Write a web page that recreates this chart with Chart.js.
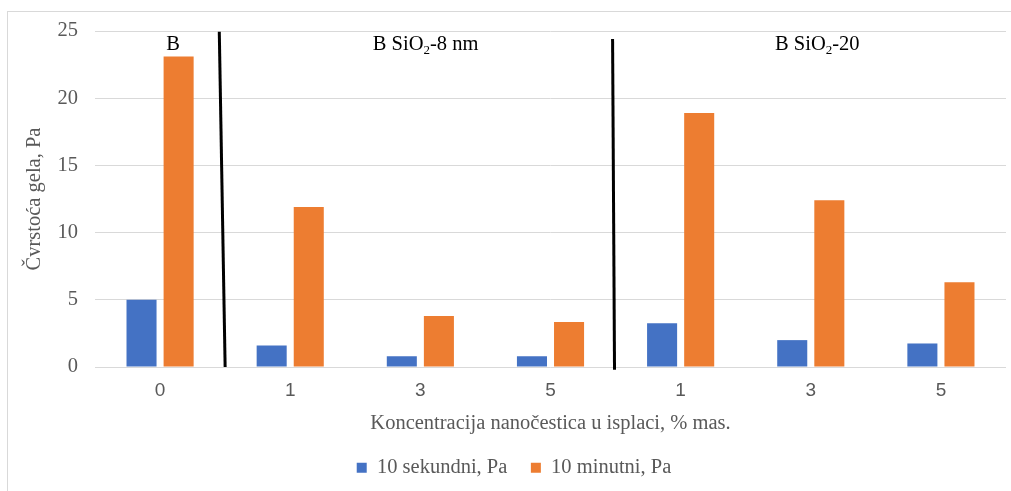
<!DOCTYPE html>
<html>
<head>
<meta charset="utf-8">
<script src="https://cdn.jsdelivr.net/npm/chart.js@4.4.1/dist/chart.umd.min.js"></script>
<style>
  html, body { margin: 0; padding: 0; background: #fff; }
  #wrap { width: 1011px; height: 491px; }
</style>
</head>
<body>
<div id="wrap"><canvas id="myChart"></canvas></div>
<script>
// chart values
var categories = ['0', '1', '3', '5', '1', '3', '5'];
var sekundni = [5.0, 1.6, 0.8, 0.8, 3.25, 2.0, 1.75];
var minutni = [23.1, 11.9, 3.8, 3.35, 18.9, 12.4, 6.3];
var yTicks = [0, 5, 10, 15, 20, 25];

// group labels above bars: [text, subscript, rest, x index]
var groupLabels = [
  ['B', '', '', 0.1],
  ['B SiO', '2', '-8 nm', 2.04],
  ['B SiO', '2', '-20', 5.05]
];
// hand drawn separators: [x top, y top, x bottom, y bottom] in data units
var separators = [
  [0.455, 24.95, 0.5, 0],
  [3.477, 24.4, 3.492, -0.2]
];

var grey = '#595959';
var serif = "'Liberation Serif', 'Times New Roman', serif";
var fs = 20.5;

var overlay = {
  id: 'overlay',
  beforeDraw: function(chart) {
    var c = chart.ctx;
    c.save();
    c.fillStyle = '#fff';
    c.fillRect(0, 0, chart.width, chart.height);
    c.strokeStyle = '#d9d9d9';
    c.lineWidth = 1;
    c.strokeRect(7.5, 11.5, chart.width + 10, chart.height + 10);
    c.restore();
  },
  afterDraw: function(chart) {
    var c = chart.ctx;
    var xs = chart.scales.x, ys = chart.scales.y;
    c.save();
    c.strokeStyle = '#000';
    c.lineWidth = 3;
    separators.forEach(function(s) {
      c.beginPath();
      c.moveTo(xs.getPixelForValue(s[0]), ys.getPixelForValue(s[1]));
      c.lineTo(xs.getPixelForValue(s[2]), ys.getPixelForValue(s[3]));
      c.stroke();
    });
    c.fillStyle = '#000';
    c.textBaseline = 'middle';
    groupLabels.forEach(function(g) {
      var big = fs + 'px ' + serif, small = '13px ' + serif;
      c.font = big;
      var w1 = c.measureText(g[0]).width, w3 = c.measureText(g[2]).width;
      c.font = small;
      var w2 = c.measureText(g[1]).width;
      var total = w1 + w2 + w3;
      var x = xs.getPixelForValue(g[3]) - total / 2;
      var y = ys.getPixelForValue(24);
      c.textAlign = 'left';
      c.font = big;
      c.fillText(g[0], x, y);
      c.font = small;
      c.fillText(g[1], x + w1, y + 6);
      c.font = big;
      c.fillText(g[2], x + w1 + w2, y);
    });
    c.restore();
  }
};

var ctx = document.getElementById('myChart').getContext('2d');
var myChart = new Chart(ctx, {
  type: 'bar',
  data: {
    labels: categories,
    datasets: [{
      label: '10 sekundni, Pa',
      data: sekundni,
      backgroundColor: '#4472c4',
      categoryPercentage: 0.57,
      barPercentage: 0.81
    }, {
      label: '10 minutni, Pa',
      data: minutni,
      backgroundColor: '#ed7d31',
      categoryPercentage: 0.57,
      barPercentage: 0.81
    }]
  },
  options: {
    responsive: true,
    maintainAspectRatio: false,
    animation: false,
    layout: { padding: { left: 22, right: 5, top: 31, bottom: 3 } },
    plugins: {
      tooltip: { enabled: false },
      legend: {
        position: 'bottom',
        labels: {
          boxWidth: 10,
          boxHeight: 10,
          padding: 23.5,
          color: grey,
          font: { family: serif, size: fs }
        }
      }
    },
    scales: {
      x: {
        grid: { display: false, drawTicks: false },
        border: { display: false },
        ticks: { color: grey, font: { family: "'Liberation Sans', Arial, sans-serif", size: 19 }, padding: 12 },
        title: {
          display: true,
          text: 'Koncentracija nanočestica u isplaci, % mas.',
          color: grey,
          font: { family: serif, size: fs, lineHeight: 1 },
          padding: { top: 4, bottom: 0 }
        },
        afterFit: function(s) { s.height = 67; }
      },
      y: {
        min: 0,
        max: 25,
        afterBuildTicks: function(s) { s.ticks = yTicks.map(function(v) { return { value: v }; }); },
        grid: { color: '#d9d9d9', drawTicks: false },
        border: { display: false },
        ticks: { color: grey, font: { family: serif, size: fs }, padding: 17 },
        title: {
          display: true,
          text: 'Čvrstoća gela, Pa',
          color: grey,
          font: { family: serif, size: fs },
          padding: 0
        },
        afterFit: function(s) { s.width = 73; }
      }
    }
  },
  plugins: [overlay]
});
</script>
</body>
</html>
